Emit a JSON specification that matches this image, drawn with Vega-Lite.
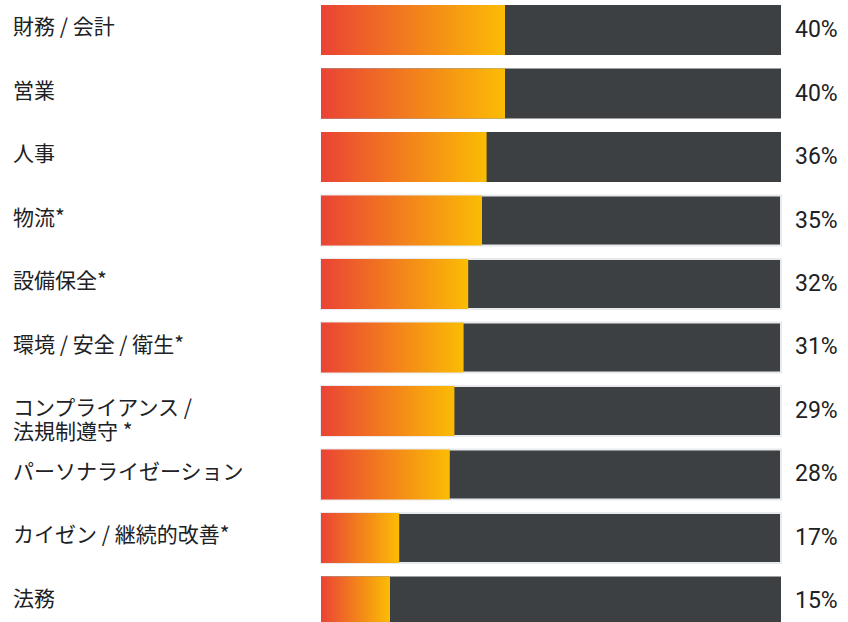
{
  "$schema": "https://vega.github.io/schema/vega-lite/v6.json",
  "width": 460,
  "height": 622,
  "autosize": {"type": "none"},
  "padding": {"left": 321, "top": 0, "right": 67, "bottom": 0},
  "background": "#ffffff",
  "config": {"view": {"stroke": null}},
  "data": {
    "values": [
      {"category": "財務 / 会計", "value": 40},
      {"category": "営業", "value": 40},
      {"category": "人事", "value": 36},
      {"category": "物流*", "value": 35},
      {"category": "設備保全*", "value": 32},
      {"category": "環境 / 安全 / 衛生*", "value": 31},
      {"category": "コンプライアンス /\n法規制遵守 *", "value": 29},
      {"category": "パーソナライゼーション", "value": 28},
      {"category": "カイゼン / 継続的改善*", "value": 17},
      {"category": "法務", "value": 15}
    ]
  },
  "transform": [{"calculate": "datum.value + '%'", "as": "pct"}],
  "encoding": {
    "y": {
      "field": "category",
      "type": "nominal",
      "sort": null,
      "axis": null,
      "scale": {"paddingInner": 0.213, "paddingOuter": 0.079, "range": [0, 631.5]}
    }
  },
  "layer": [
    {
      "mark": {"type": "bar", "fill": "#3c4043", "strokeWidth": 2},
      "encoding": {
        "x": {"datum": 0, "type": "quantitative", "scale": {"domain": [0, 100]}, "axis": null},
        "x2": {"datum": 100},
        "stroke": {
          "condition": {"test": "indexof(datum.category, '*') >= 0 || datum.category == 'パーソナライゼーション'", "value": "#e8eaed"},
          "value": null
        }
      }
    },
    {
      "mark": {
        "type": "bar",
        "color": {
          "gradient": "linear",
          "x1": 0, "y1": 0, "x2": 1, "y2": 0,
          "stops": [
            {"offset": 0, "color": "#ea4335"},
            {"offset": 1, "color": "#fbbc04"}
          ]
        }
      },
      "encoding": {
        "x": {"field": "value", "type": "quantitative"},
        "x2": {"datum": 0}
      }
    },
    {
      "mark": {
        "type": "text",
        "align": "left",
        "baseline": "top",
        "dx": -308,
        "dy": 12,
        "fontSize": 21,
        "font": "Noto Sans CJK JP",
        "color": "#202124",
        "lineBreak": "\n",
        "lineHeight": 24
      },
      "encoding": {
        "x": {"datum": 0, "type": "quantitative"},
        "y": {"field": "category", "type": "nominal", "sort": null, "bandPosition": 0},
        "text": {"field": "category"}
      }
    },
    {
      "mark": {
        "type": "text",
        "align": "left",
        "baseline": "middle",
        "dx": 14,
        "fontSize": 23,
        "font": "Roboto",
        "color": "#202124"
      },
      "encoding": {
        "x": {"datum": 100, "type": "quantitative"},
        "text": {"field": "pct"}
      }
    }
  ]
}
